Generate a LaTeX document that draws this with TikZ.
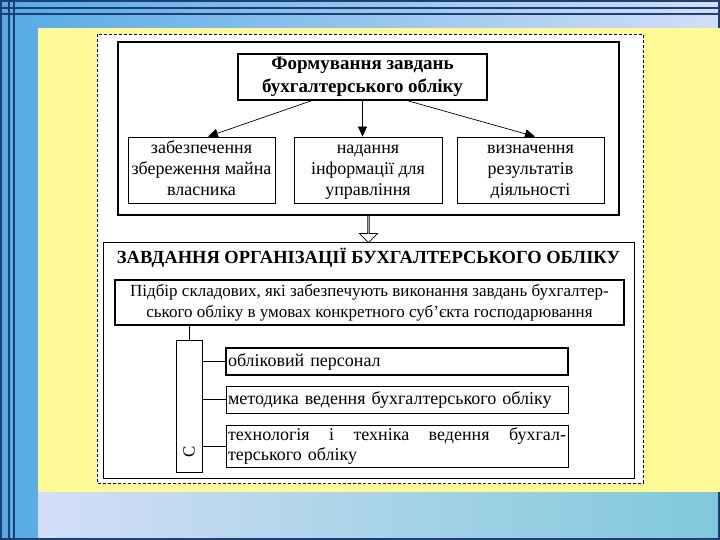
\documentclass[tikz,border=0pt]{standalone}
\usepackage{fontspec}
\setmainfont{Liberation Serif}
\usetikzlibrary{arrows.meta,calc,shapes.arrows}
\definecolor{SlideBlue}{HTML}{55ABE6}
\definecolor{SlideLav}{HTML}{D3DEF7}
\definecolor{SlideTeal}{HTML}{7FC9DA}
\definecolor{SlideNavy}{HTML}{1E3F73}
\definecolor{SlideYellow}{HTML}{FFFA96}

\begin{document}
\begin{tikzpicture}[x=1pt,y=-1pt,
	frame/.style={draw, line width=1.6pt, inner sep=0pt},
	titlebox/.style={draw, fill=white, line width=1.3pt, align=center, inner sep=0pt, font=\bfseries\fontsize{19}{23.5}\selectfont},
	taskbox/.style={draw, fill=white, line width=0.9pt, align=center, inner sep=0pt, minimum width=147pt, minimum height=66pt, text height=56pt, text depth=4pt, font=\fontsize{18}{21}\selectfont},
	partbox/.style={draw, fill=white, line width=0.9pt, align=left, inner sep=2pt, text width=338pt, minimum width=342pt, font=\fontsize{18}{20.5}\selectfont},
	link/.style={-{Triangle[length=10pt,width=9pt]}, line width=0.7pt},
	stem/.style={line width=0.7pt}
]
\useasboundingbox (0,0) rectangle (720,540);
% slide background
\shade[left color=SlideBlue, right color=SlideLav] (0,0) rectangle (720,540);
\shade[left color=SlideLav, right color=SlideTeal] (38,492) rectangle (720,540);
\foreach \x/\w in {1/1.6, 9/1.3, 14/2} \draw[SlideNavy, line width=\w pt] (\x,0) -- (\x,540);
\foreach \y/\w in {1/1.2, 8/1.3, 14/2} \draw[SlideNavy, line width=\w pt] (0,\y) -- (720,\y);
\draw[SlideNavy, line width=1.2pt] (719,0) -- (719,540);
\draw[SlideNavy, line width=1.2pt] (0,539) -- (720,539);
\fill[SlideYellow] (38,28) rectangle (720,492);
\draw[fill=white, dash pattern=on 3pt off 2pt, line width=0.6pt] (97,34) rectangle (643,483);

% upper block
\node[frame, minimum width=501pt, minimum height=173pt] (goals) at (368.5,128.5) {};
\node[titlebox, minimum width=249pt, minimum height=46pt] (title) at (362.5,77) {Формування завдань\\бухгалтерського обліку};
\node[taskbox] (keep) at (201.5,170) {забезпечення\\збереження майна\\власника};
\node[taskbox, minimum width=148pt] (inform) at (368,170) {надання\\інформації для\\управління};
\node[taskbox] (result) at (530.5,170) {визначення\\результатів\\діяльності};

\draw[link] ($(title.south west)!0.297!(title.south east)$) -- ($(keep.north west)!0.544!(keep.north east)$);
\draw[link] (title.south) -- (title.south |- inform.north);
\draw[link] ($(title.south west)!0.679!(title.south east)$) -- ($(result.north west)!0.53!(result.north east)$);

% lower block
\node[draw, line width=0.9pt, inner sep=0pt, minimum width=531pt, minimum height=236pt] (organ) at (368.5,360) {};
\node[single arrow, draw, fill=white, line width=0.7pt, inner sep=0pt, shape border rotate=270, minimum height=27pt, minimum width=18pt, single arrow head extend=3.5pt] (pass) at ($(goals.south)!0.5!(organ.north)$) {};
\node[font=\bfseries\fontsize{18.5}{22}\selectfont] (heading) at (368.5,258) {ЗАВДАННЯ ОРГАНІЗАЦІЇ БУХГАЛТЕРСЬКОГО ОБЛІКУ};
\node[draw, fill=white, line width=1.1pt, align=center, inner sep=0pt, minimum width=509pt, minimum height=45pt, font=\fontsize{17}{21}\selectfont] (pick) at (369.5,302.5) {Підбір складових, які забезпечують виконання завдань бухгалтер-\\ського обліку в умовах конкретного суб’єкта господарювання};

\node[draw, line width=0.9pt, inner sep=0pt, minimum width=26pt, minimum height=132pt] (parts) at (189,406) {};
\node[rotate=90, font=\fontsize{17}{17}\selectfont] (partsname) at (189,452) {С};

\node[partbox, line width=1.8pt, minimum height=27pt] (staff) at (397,361.5) {обліковий персонал};
\node[partbox, minimum height=27pt] (method) at (397,399.5) {методика ведення бухгалтерського обліку};
\node[partbox, minimum height=42pt] (techn) at (397,446) {технологія\hfill і\hfill техніка\hfill ведення\hfill бухгал-\\терського обліку};

\draw[stem] (pick.south -| parts.north) -- (parts.north);
\draw[stem, line width=1.6pt] (parts.east |- staff.west) -- (staff.west);
\draw[stem] (parts.east |- method.west) -- (method.west);
\draw[stem] (parts.east |- techn.west) -- (techn.west);
\end{tikzpicture}
\end{document}
